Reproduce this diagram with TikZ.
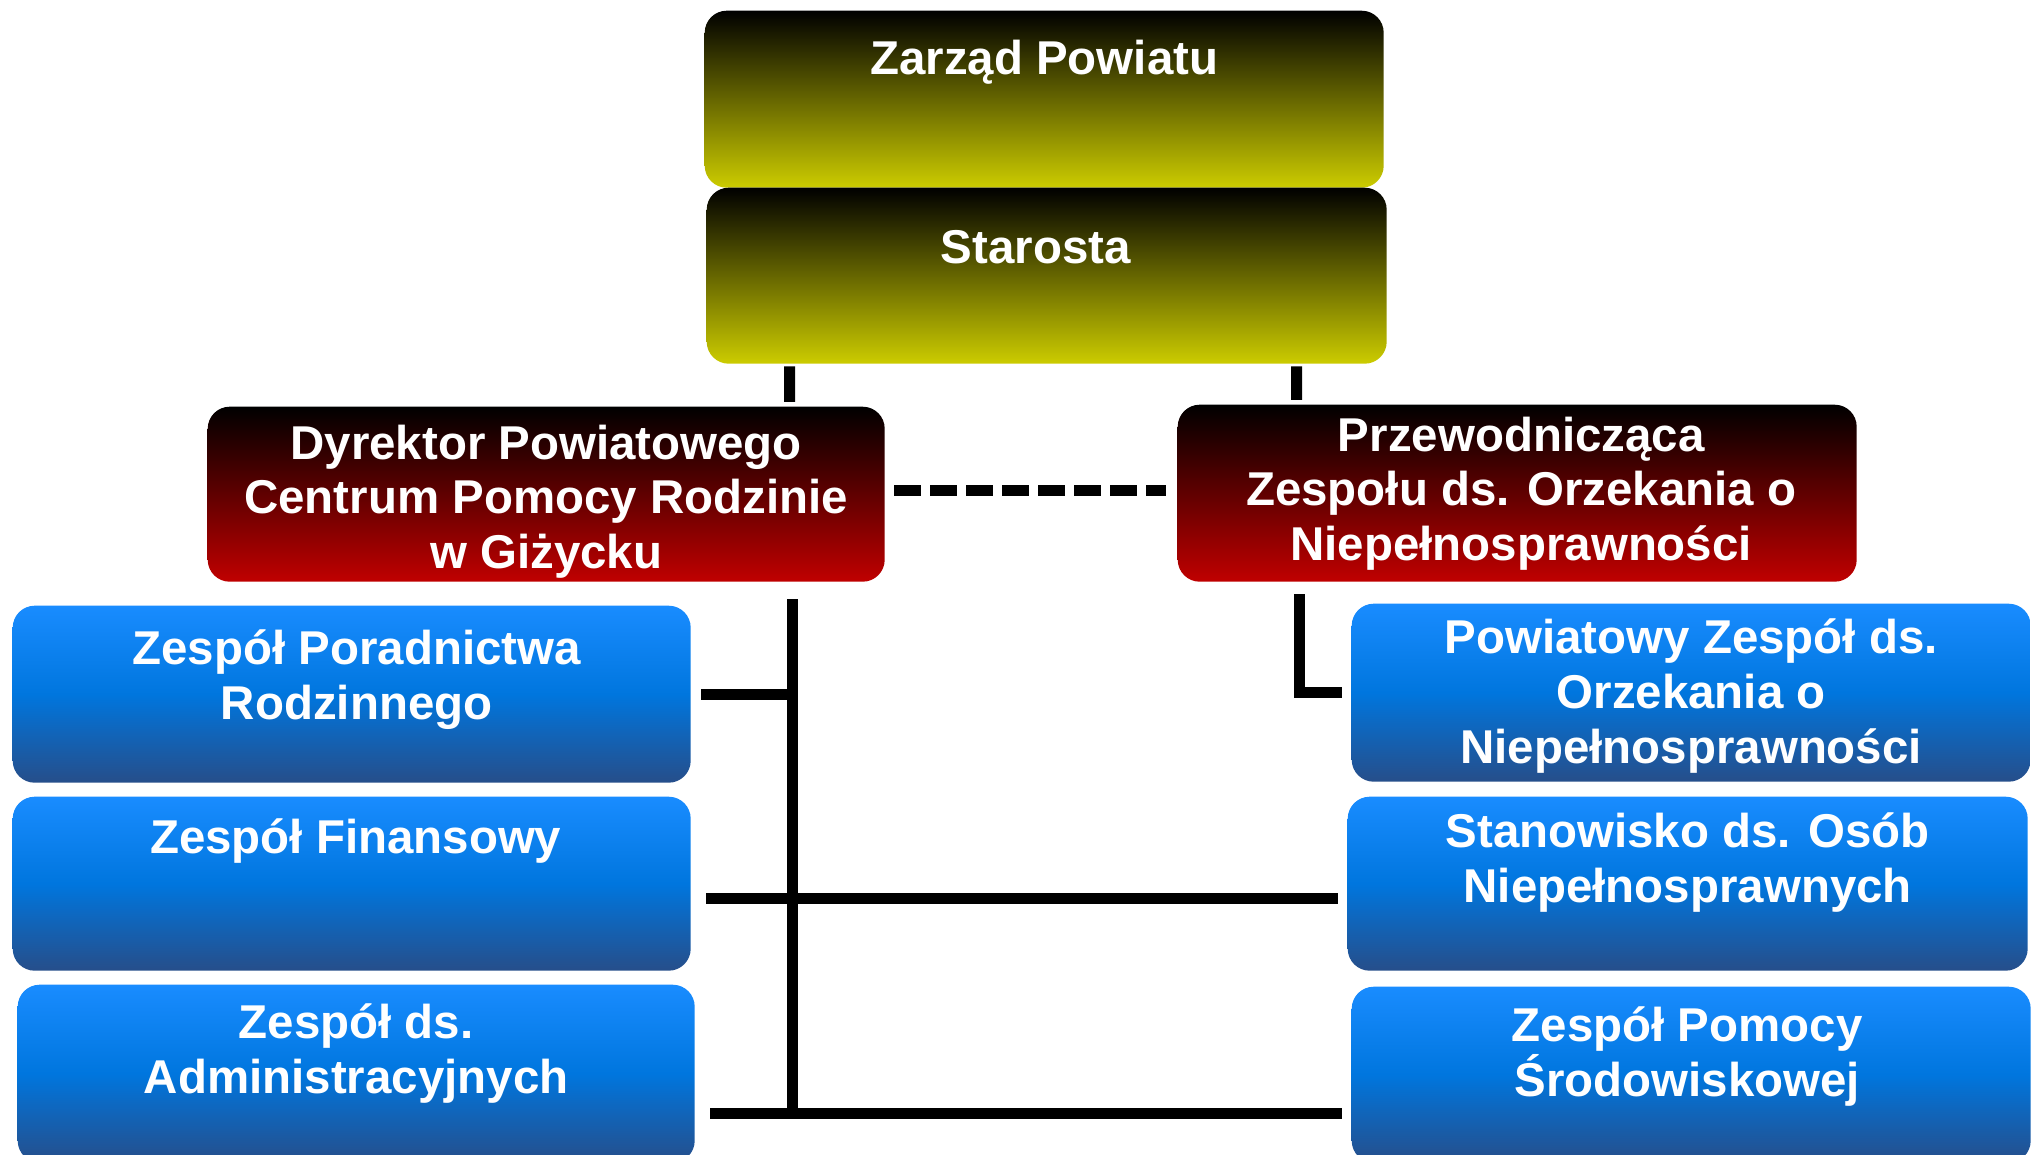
\documentclass[tikz,border=0pt]{standalone}
\usepackage{fontspec}
\setmainfont{Liberation Sans}
\usetikzlibrary{positioning}
\definecolor{ylwbot}{RGB}{204,204,0}
\definecolor{redbot}{RGB}{192,0,0}
\definecolor{bluetop}{RGB}{25,140,255}
\definecolor{bluemid}{RGB}{0,118,222}
\definecolor{bluebot}{RGB}{38,78,138}
\tikzset{
  box/.style={shape=rectangle, rounded corners=0.22cm, anchor=north west, inner sep=0pt},
  ylwbox/.style={box, top color=black, bottom color=ylwbot},
  redbox/.style={box, top color=black, bottom color=redbot},
  bluebox/.style={box, top color=bluetop, bottom color=bluebot, middle color=bluemid},
  txt/.style={text=white, font=\bfseries\fontsize{13.5pt}{15.6pt}\selectfont, align=center, inner sep=0pt},
  conn/.style={line width=0.11cm},
}
\begin{document}
\begin{tikzpicture}
            \useasboundingbox (0,0) rectangle (20.37,-11.55);

            \node[ylwbox, minimum width=6.79cm, minimum height=1.77cm] (zarzad) at (7.04,-0.10) {};
            \node[ylwbox, minimum width=6.80cm, minimum height=1.76cm] (starosta) at (7.06,-1.87) {};
            \node[redbox, minimum width=6.77cm, minimum height=1.75cm] (dyrektor) at (2.07,-4.06) {};
            \node[redbox, minimum width=6.79cm, minimum height=1.77cm] (przew) at (11.77,-4.04) {};
            \node[bluebox, minimum width=6.78cm, minimum height=1.77cm] (poradnictwo) at (0.12,-6.05) {};
            \node[bluebox, minimum width=6.78cm, minimum height=1.74cm] (finanse) at (0.12,-7.96) {};
            \node[bluebox, minimum width=6.77cm, minimum height=1.78cm] (administracja) at (0.17,-9.84) {};
            \node[bluebox, minimum width=6.79cm, minimum height=1.78cm] (orzekanie) at (13.51,-6.03) {};
            \node[bluebox, minimum width=6.80cm, minimum height=1.74cm] (stanowisko) at (13.47,-7.96) {};
            \node[bluebox, minimum width=6.79cm, minimum height=1.76cm] (pomoc) at (13.51,-9.86) {};

            \node[txt, below=0.29cm of zarzad.north] (zarzadT) {Zarząd Powiatu};
            \node[txt, below=0.43cm of starosta.north, xshift=-0.11cm] (starostaT) {Starosta};
            \node[txt, below=0.18cm of dyrektor.north] (dyrektorT) {Dyrektor Powiatowego\\Centrum Pomocy Rodzinie\\w Giżycku};
            \node[txt, below=0.12cm of przew.north, xshift=0.04cm] (przewT) {Przewodnicząca\\Zespołu ds. Orzekania o\\Niepełnosprawności};
            \node[txt, below=0.24cm of poradnictwo.north, xshift=0.05cm] (poradnictwoT) {Zespół Poradnictwa\\Rodzinnego};
            \node[txt, below=0.22cm of finanse.north, xshift=0.04cm] (finanseT) {Zespół Finansowy};
            \node[txt, below=0.19cm of administracja.north] (administracjaT) {Zespół ds.\\Administracyjnych};
            \node[txt, below=0.15cm of orzekanie.north] (orzekanieT) {Powiatowy Zespół ds.\\Orzekania o\\Niepełnosprawności};
            \node[txt, below=0.16cm of stanowisko.north] (stanowiskoT) {Stanowisko ds. Osób\\Niepełnosprawnych};
            \node[txt, below=0.20cm of pomoc.north, xshift=-0.04cm] (pomocT) {Zespół Pomocy\\Środowiskowej};

            \coordinate (trunk) at ([xshift=2.465cm]dyrektor.south);
            \coordinate (b2) at ([yshift=-0.15cm]finanse.east);
            \coordinate (b3) at ([yshift=-0.40cm]administracja.east);

            \draw[conn, shorten <=0.02cm, shorten >=0.04cm] ([xshift=-2.57cm]starosta.south) -- ([xshift=2.435cm]dyrektor.north);
            \draw[conn, shorten <=0.02cm, shorten >=0.04cm] ([xshift=2.50cm]starosta.south) -- ([xshift=-2.205cm]przew.north);
            \draw[conn, dash pattern=on 0.27cm off 0.09cm, shorten <=0.09cm, shorten >=0.11cm] ([yshift=0.035cm]dyrektor.east) -- ([yshift=0.035cm]dyrektor.east -| przew.west);
            \draw[conn, shorten <=0.17cm] (trunk) -- (trunk |- b3);
            \draw[conn, shorten <=0.10cm] (poradnictwo.east) -- (poradnictwo.east -| trunk);
            \draw[conn, shorten <=0.15cm, shorten >=0.09cm] (b2) -- (b2 -| stanowisko.west);
            \draw[conn, shorten <=0.15cm, shorten >=0.09cm] (b3) -- (b3 -| pomoc.west);
            \draw[conn, shorten <=0.12cm, shorten >=0.09cm] ([xshift=-2.175cm]przew.south) |- (orzekanie.west);
        \end{tikzpicture}
\end{document}
